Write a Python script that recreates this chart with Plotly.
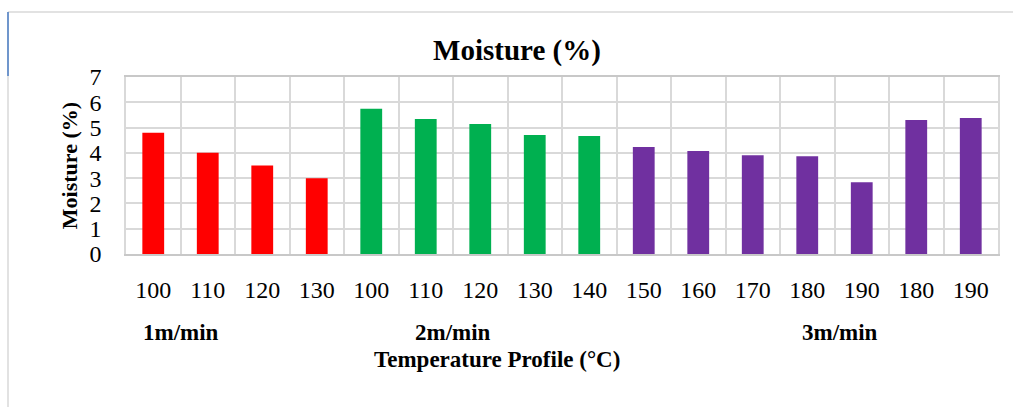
import plotly.graph_objects as go

# Moisture content by line speed and temperature profile
temps_1m = [100, 110, 120, 130]
moist_1m = [4.80, 4.00, 3.50, 3.00]

temps_2m = [100, 110, 120, 130, 140]
moist_2m = [5.74, 5.34, 5.14, 4.71, 4.67]

temps_3m = [150, 160, 170, 180, 190, 180, 190]
moist_3m = [4.23, 4.07, 3.91, 3.87, 2.84, 5.30, 5.38]

speed_labels = ["1m/min", "2m/min", "3m/min"]
colors = ["#FF0000", "#00B050", "#7030A0"]

groups = [(temps_1m, moist_1m), (temps_2m, moist_2m), (temps_3m, moist_3m)]

FONT = "Liberation Serif"

fig = go.Figure()
pos = 0
all_temps = []
for (temps, vals), col in zip(groups, colors):
    xs = list(range(pos, pos + len(temps)))
    fig.add_trace(go.Bar(x=xs, y=vals, marker=dict(color=col, line=dict(width=0)),
                         width=0.4, showlegend=False))
    all_temps.extend(temps)
    pos += len(temps)

n = len(all_temps)

# pixel -> paper coordinate helpers for the 872x177 plot area
px = lambda v: (v - 126) / 872
py = lambda v: (254 - v) / 177

fig.update_layout(
    width=1013, height=407,
    margin=dict(l=126, r=15, t=77, b=153),
    paper_bgcolor="white", plot_bgcolor="white",
    font=dict(family=FONT, color="black"),
    title=dict(text="<b>Moisture (%)</b>", font=dict(size=29, family=FONT),
               x=517 / 1013, xanchor="center", y=1 - 50 / 407, yanchor="middle"),
)

fig.update_xaxes(
    range=[-0.5, n - 0.5],
    tickmode="array", tickvals=list(range(n)), ticktext=[str(t) for t in all_temps],
    tickfont=dict(size=24, family=FONT), ticklabelstandoff=13,
    showgrid=False, zeroline=False,
    minor=dict(tick0=-0.5, dtick=1, showgrid=True, gridcolor="#d9d9d9", gridwidth=1.5),
    showline=True, linecolor="#c8c8c8", linewidth=1.5, mirror=True,
)
fig.update_yaxes(
    range=[0, 7], dtick=1, tick0=0,
    tickfont=dict(size=24, family=FONT), ticklabelstandoff=18,
    showgrid=True, gridcolor="#d9d9d9", gridwidth=1.5, zeroline=False,
    showline=True, linecolor="#d9d9d9", linewidth=1.5, mirror=True,
    title=dict(text="<b>Moisture (%)</b>", font=dict(size=22, family=FONT), standoff=6),
)

# Speed group labels beneath the temperature ticks
label_x = [0.5, 5.5, 12.6]
for lab, lx in zip(speed_labels, label_x):
    fig.add_annotation(x=lx, xref="x", y=py(332), yref="paper",
                       yanchor="middle", xanchor="center", showarrow=False,
                       text=f"<b>{lab}</b>", font=dict(size=23, family=FONT))

# x-axis title
fig.add_annotation(x=px(497), xref="paper", y=py(359), yref="paper",
                   xanchor="center", yanchor="middle", showarrow=False,
                   text="<b>Temperature Profile (°C)</b>", font=dict(size=23, family=FONT))

# Chart container border (top and left edges)
fig.add_shape(type="line", xref="paper", yref="paper", x0=px(8), x1=px(1013), y0=py(12), y1=py(12),
              line=dict(color="#d9d9d9", width=1.5))
fig.add_shape(type="line", xref="paper", yref="paper", x0=px(8), x1=px(8), y0=py(12), y1=py(407),
              line=dict(color="#d9d9d9", width=1.5))
fig.add_shape(type="line", xref="paper", yref="paper", x0=px(8), x1=px(8), y0=py(12), y1=py(76),
              line=dict(color="#4a7cc4", width=1.5))

fig.write_html("out.html")
